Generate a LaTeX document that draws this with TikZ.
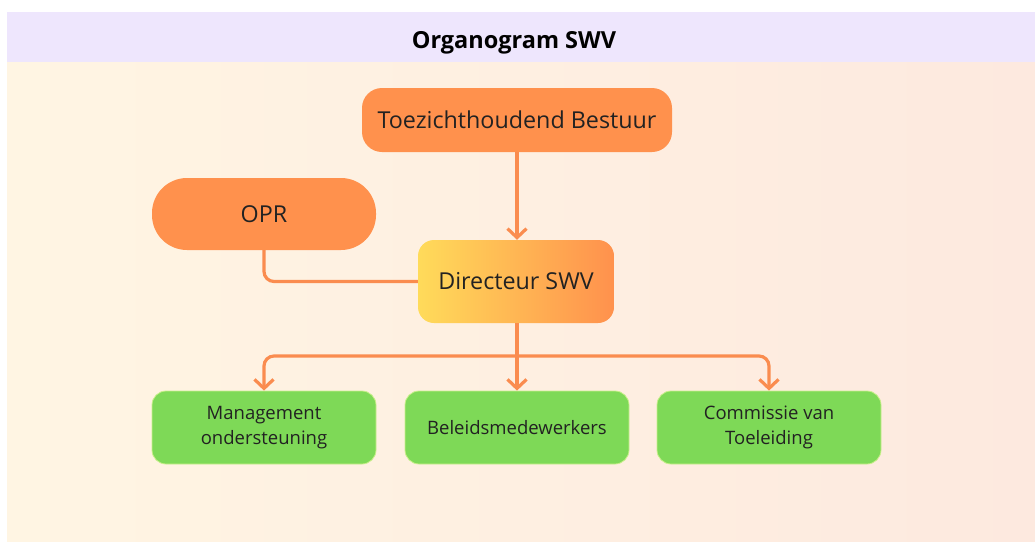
\documentclass[tikz,border=0pt]{standalone}
\usepackage{fontspec}
\setmainfont{Open Sans}
\usetikzlibrary{arrows.meta, positioning}

\definecolor{hdrpurple}{HTML}{EEE6FD}
\definecolor{bgleft}{HTML}{FFF5E3}
\definecolor{bgright}{HTML}{FDE9DF}
\definecolor{orangebox}{HTML}{FF914D}
\definecolor{yellowbox}{HTML}{FFDB5A}
\definecolor{greenbox}{HTML}{7ED957}
\definecolor{linkorange}{HTML}{FA8C4F}
\definecolor{boxtext}{HTML}{222222}

\begin{document}
\begin{tikzpicture}[x=1pt, y=-1pt,
    topbox/.style={fill=orangebox, rounded corners=20pt, minimum width=310pt, minimum height=64pt,
        text=boxtext, font=\fontsize{23.3}{27}\selectfont},
    oprbox/.style={fill=orangebox, rounded corners=35pt, minimum width=224pt, minimum height=72pt,
        text=boxtext, font=\fontsize{23.3}{27}\selectfont},
    dirbox/.style={left color=yellowbox, right color=orangebox, rounded corners=16pt,
        minimum width=196pt, minimum height=83pt, text=boxtext, font=\fontsize{23.3}{27}\selectfont},
    teambox/.style={fill=greenbox, draw=greenbox!70!yellow!60!white, line width=0.8pt, rounded corners=14pt,
        minimum width=224pt, minimum height=73pt, align=center, text=boxtext,
        font=\fontsize{18.5}{25}\selectfont},
    link/.style={draw=linkorange, line width=3.2pt, rounded corners=10pt},
    tip/.style={-{Straight Barb[length=9pt, width=19pt]}}]
    % Background
    \useasboundingbox (0,0) rectangle (1035,541);
    \fill[white] (0,0) rectangle (1035,541);
    \shade[left color=bgleft, right color=bgright] (7,62) rectangle (1035,541);
    \fill[hdrpurple] (7,12) rectangle (1035,62);
    \node[font=\fontsize{23.5}{27}\selectfont\bfseries, text=black] (title) at (514,43) {Organogram SWV};

    % Boxes
    \node[topbox] (bestuur) at (517,120) {Toezichthoudend Bestuur};
    \node[oprbox] (opr) at (264,214) {OPR};
    \node[dirbox] (dir) at (516,281.5) {Directeur SWV};
    \node[teambox] (mgmt) at (264,427.5) {Management\\ondersteuning};
    \node[teambox] (beleid) at (517,427.5) {Beleidsmedewerkers};
    \node[teambox] (cvt) at (769,427.5) {Commissie van\\Toeleiding};

    % Connectors
    \coordinate (split) at (517,356);
    \draw[link, tip] (bestuur.south) -- (bestuur.south |- dir.north);
    \draw[link] (opr.south) |- (dir.west);
    \draw[link] (dir.south -| split) -- (split);
    \draw[link, tip] (split) -| (mgmt.north);
    \draw[link, tip] (split) -- (beleid.north);
    \draw[link, tip] (split) -| (cvt.north);
\end{tikzpicture}
\end{document}
